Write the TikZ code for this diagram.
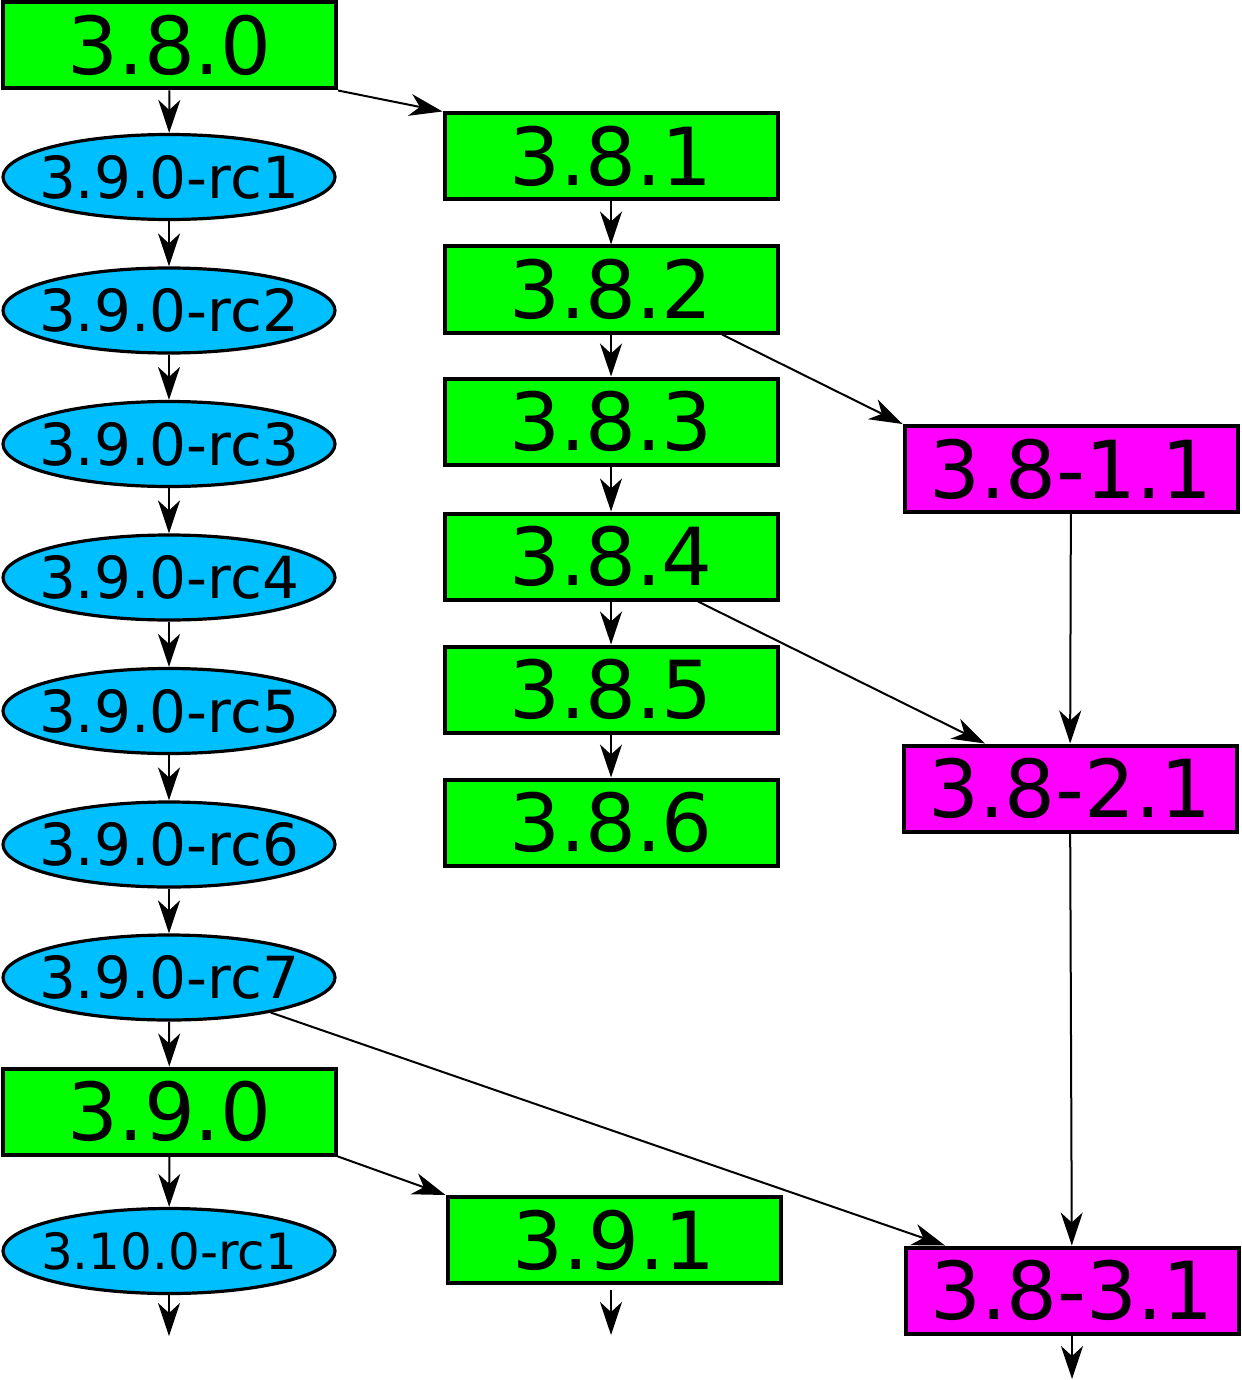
\documentclass[tikz,border=0pt]{standalone}
\usepackage{fontspec}
\setmainfont{DejaVu Sans}
\usetikzlibrary{arrows.meta,shapes.geometric}
\definecolor{relgreen}{HTML}{00FF00}
\definecolor{rcblue}{HTML}{00BFFF}
\definecolor{pkgmagenta}{HTML}{FF00FF}
\tikzset{
  release/.style={draw, line width=4pt, fill=relgreen, rectangle,
    minimum width=333pt, minimum height=86pt, inner sep=0pt,
    font=\fontsize{80}{80}\selectfont},
  patch/.style={release, fill=pkgmagenta},
  candidate/.style={draw, line width=3.2pt, fill=rcblue, ellipse,
    minimum width=332pt, minimum height=85pt, inner xsep=-25pt, inner ysep=0pt,
    font=\fontsize{58}{58}\selectfont},
  edge/.style={line width=2pt, -{Stealth[length=33pt, width=22pt, inset=10pt]}}
}
\begin{document}
\begin{tikzpicture}[x=1pt, y=-1pt]
\useasboundingbox (0,0) rectangle (1241,1380);

% main line: 3.8.0, the 3.9.0 candidates, 3.9.0, 3.10.0-rc1
\node[release] (v380) at (169.5,45.5) {3.8.0};
\node[candidate] (rc1) at (169,177) {3.9.0-rc1};
\node[candidate] (rc2) at (169,310.5) {3.9.0-rc2};
\node[candidate] (rc3) at (169,444) {3.9.0-rc3};
\node[candidate] (rc4) at (169,577.5) {3.9.0-rc4};
\node[candidate] (rc5) at (169,711) {3.9.0-rc5};
\node[candidate] (rc6) at (169,844.5) {3.9.0-rc6};
\node[candidate] (rc7) at (169,977.5) {3.9.0-rc7};
\node[release] (v390) at (169.5,1111.5) {3.9.0};
\node[candidate, font=\fontsize{50}{50}\selectfont] (rc10) at (169,1251) {3.10.0-rc1};
\coordinate (endA) at (169,1336);

% 3.8 maintenance branch
\node[release] (v381) at (611,156.5) {3.8.1};
\node[release] (v382) at (611,289.5) {3.8.2};
\node[release] (v383) at (611,421.5) {3.8.3};
\node[release] (v384) at (611,556.5) {3.8.4};
\node[release] (v385) at (611,689.5) {3.8.5};
\node[release] (v386) at (611,822.5) {3.8.6};

% 3.9 maintenance branch
\node[release] (v391) at (614,1240) {3.9.1};
\coordinate (endB) at (611,1335);

% packaging revisions
\node[patch] (p11) at (1071,469) {3.8-1.1};
\node[patch] (p21) at (1070,788.5) {3.8-2.1};
\node[patch] (p31) at (1072,1290.5) {3.8-3.1};
\coordinate (endC) at (1072,1379);

% connectors
\draw[edge] (v380) -- (rc1);
\draw[edge] (rc1) -- (rc2);
\draw[edge] (rc2) -- (rc3);
\draw[edge] (rc3) -- (rc4);
\draw[edge] (rc4) -- (rc5);
\draw[edge] (rc5) -- (rc6);
\draw[edge] (rc6) -- (rc7);
\draw[edge] (rc7) -- (v390);
\draw[edge] (v390) -- (rc10);
\draw[edge] (rc10) -- (endA);

\draw[edge] (v380.south east) -- (v381.north west);
\draw[edge] (v381) -- (v382);
\draw[edge] (v382) -- (v383);
\draw[edge] (v383) -- (v384);
\draw[edge] (v384) -- (v385);
\draw[edge] (v385) -- (v386);

\draw[edge] (v390.south east) -- (v391.north west);
\draw[edge, shorten <=5pt] (v391.south -| endB) -- (endB);

\draw[edge] ([xshift=111pt]v382.south) -- (p11.north west);
\draw[edge] ([xshift=87pt]v384.south) -- ([xshift=-85pt]p21.north);
\draw[edge] (rc7.-19) -- ([xshift=-127pt]p31.north);
\draw[edge] (p11) -- (p21);
\draw[edge] (p21) -- (p31);
\draw[edge] (p31) -- (endC);
\end{tikzpicture}
\end{document}
